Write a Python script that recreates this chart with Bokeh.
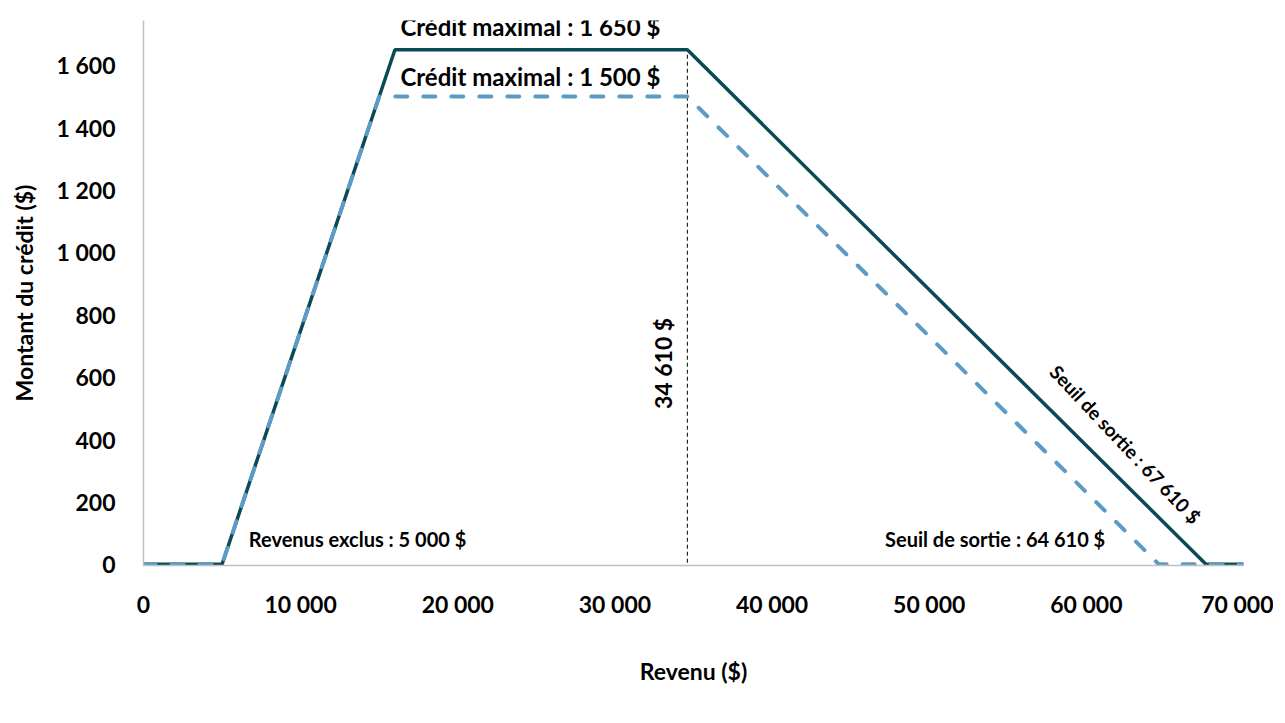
from bokeh.plotting import figure
from bokeh.models import Range1d, FixedTicker, Legend, LegendItem
from bokeh.core.properties import value
from bokeh.embed import file_html
from bokeh.resources import INLINE
import math

# Data
x_65 = [0, 5000, 16000, 34610, 67610, 70000]
y_65 = [0, 0, 1650, 1650, 0, 0]
x_60 = [0, 5000, 15000, 34610, 64610, 70000]
y_60 = [0, 0, 1500, 1500, 0, 0]
series_names = ["Travailleur âgé de 65 ans ou plus", "Travailleur âgé de 60 à 64 ans"]
y_ticks = [0, 200, 400, 600, 800, 1000, 1200, 1400, 1600]
y_tick_labels = ["0", "200", "400", "600", "800", "1 000", "1 200", "1 400", "1 600"]
x_ticks = [0, 10000, 20000, 30000, 40000, 50000, 60000, 70000]
x_tick_labels = ["0", "10 000", "20 000", "30 000", "40 000", "50 000", "60 000", "70 000"]
vline_x = 34610

FONT = "Lato"
DARK = "#0B4956"
LIGHT = "#5B9BC5"

p = figure(frame_width=1100, frame_height=545, output_backend="svg", toolbar_location=None,
           x_range=Range1d(0, 70000), y_range=Range1d(-4, 1744),
           min_border_left=143, min_border_top=20, min_border_right=30, min_border_bottom=156)
p.outline_line_color = None
p.grid.visible = False

# axes
for ax in (p.xaxis[0], p.yaxis[0]):
    ax.axis_line_color = "#BFBFBF"
    ax.axis_line_width = 1.5
    ax.major_tick_line_color = None
    ax.minor_tick_line_color = None
    ax.major_tick_out = 0
    ax.major_tick_in = 0
    ax.minor_tick_out = 0
    ax.minor_tick_in = 0
    ax.major_label_text_font = FONT
    ax.major_label_text_font_style = "bold"
    ax.major_label_text_font_size = "23px"
    ax.major_label_text_color = "#000000"
    ax.axis_label_text_font = FONT
    ax.axis_label_text_font_style = "bold"
    ax.axis_label_text_font_size = "23px"
    ax.axis_label_text_color = "#000000"

p.xaxis.ticker = FixedTicker(ticks=x_ticks)
p.xaxis.major_label_overrides = {t: l for t, l in zip(x_ticks, x_tick_labels)}
p.yaxis.ticker = FixedTicker(ticks=y_ticks)
p.yaxis.major_label_overrides = {t: l for t, l in zip(y_ticks, y_tick_labels)}
p.xaxis.axis_label = "Revenu ($)"
p.yaxis.axis_label = "Montant du crédit ($)"
p.xaxis.major_label_standoff = 24
p.xaxis.axis_label_standoff = 36
p.yaxis.major_label_standoff = 28
p.yaxis.axis_label_standoff = 16

# vertical dashed reference
p.line(x=[vline_x, vline_x], y=[-40, y_65[2]], line_color="black", line_width=1, line_dash="4 3")

r1 = p.line(x_65, y_65, line_color=DARK, line_width=3.5)
r2 = p.line(x_60, y_60, line_color=LIGHT, line_width=4, line_dash="12 16", line_cap="round")

# annotations
p.text(x=[16350], y=[1725], text=["Crédit maximal : 1 650 $"], text_font=value(FONT),
       text_font_style="bold", text_font_size="24px", text_baseline="middle", text_align="left")
p.text(x=[16350], y=[1565], text=["Crédit maximal : 1 500 $"], text_font=value(FONT),
       text_font_style="bold", text_font_size="24px", text_baseline="middle", text_align="left")
p.text(x=[6700], y=[80], text=["Revenus exclus : 5 000 $"], text_font=value(FONT),
       text_font_style="bold", text_font_size="20px", text_baseline="middle", text_align="left")
p.text(x=[61200], y=[80], text=["Seuil de sortie : 64 610 $"], text_font=value(FONT),
       text_font_style="bold", text_font_size="20px", text_baseline="middle", text_align="right")
p.text(x=[62490], y=[385], text=["Seuil de sortie : 67 610 $"], text_font=value(FONT),
       text_font_style="bold", text_font_size="19px", text_baseline="middle", text_align="center",
       angle=-0.815)
p.text(x=[33030], y=[644], text=["34 610 $"], text_font=value(FONT),
       text_font_style="bold", text_font_size="23px", text_baseline="middle", text_align="center",
       angle=math.pi / 2)

legend = Legend(items=[LegendItem(label=series_names[0], renderers=[r1]),
                       LegendItem(label=series_names[1], renderers=[r2])],
                orientation="horizontal", location="center",
                glyph_width=72, glyph_height=22, label_standoff=3, spacing=63,
                label_text_font=FONT, label_text_font_size="22px", label_text_color="#000000",
                border_line_color=None, background_fill_alpha=0, padding=0, margin=0)
p.add_layout(legend, "below")

open("out.html", "w").write(file_html(p, INLINE))
